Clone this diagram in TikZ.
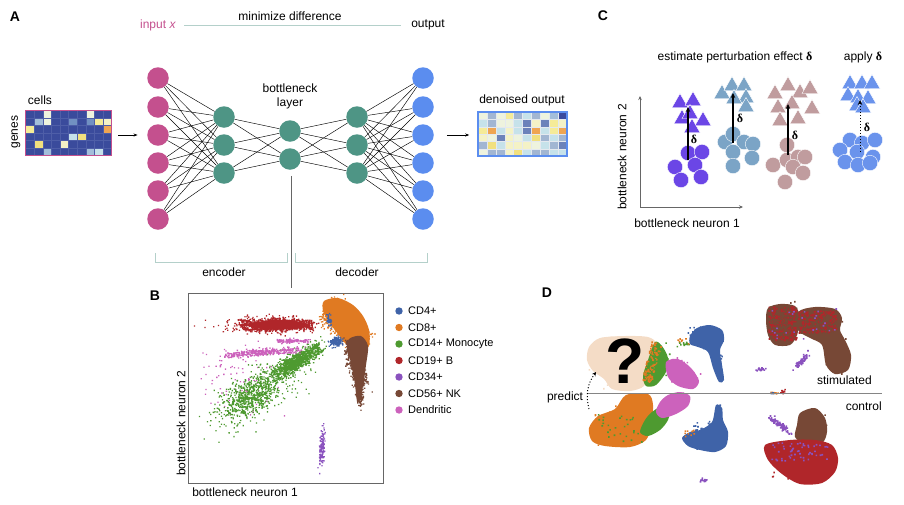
\documentclass[tikz,border=0pt]{standalone}
\usepackage{fontspec}
\setmainfont{Liberation Sans}
\newfontfamily\serifgr{Liberation Serif}
\usetikzlibrary{arrows.meta}
\definecolor{cMag}{HTML}{C4508E}
\definecolor{cTeal}{HTML}{4E9585}
\definecolor{cOut}{HTML}{5B8DEF}
\definecolor{cLine}{HTML}{B4D0CA}
\definecolor{cAx}{HTML}{666666}
\definecolor{cBlue}{HTML}{3F63A8}
\definecolor{cOrange}{HTML}{E07A22}
\definecolor{cGreen}{HTML}{4E9A30}
\definecolor{cRed}{HTML}{B0262A}
\definecolor{cPurple}{HTML}{8A52BE}
\definecolor{cBrown}{HTML}{774836}
\definecolor{cPink}{HTML}{CC62BC}
\definecolor{cPeach}{HTML}{F4DCC6}
\definecolor{cCp}{HTML}{6B46E6}
\definecolor{cCs}{HTML}{7BA4C6}
\definecolor{cCr}{HTML}{C09C9E}
\definecolor{cCb}{HTML}{6A93EC}
\definecolor{mA}{HTML}{3A4B9C}
\definecolor{mW}{HTML}{EEF3DE}
\definecolor{mL}{HTML}{A3BEDA}
\definecolor{mM}{HTML}{7190C2}
\definecolor{mY}{HTML}{F5EB98}
\definecolor{mP}{HTML}{F4F2C6}
\definecolor{mO}{HTML}{EFA552}
\definecolor{mC}{HTML}{C6E2EA}
\definecolor{mG}{HTML}{A2B6D2}
\definecolor{mD}{HTML}{3A4A9E}
\definecolor{mS}{HTML}{6C82BA}
\definecolor{mK}{HTML}{F1E07E}
\definecolor{gIn}{HTML}{4E5EA8}
\definecolor{gOut}{HTML}{E4E9EF}
\newcommand\heatmap[6]{%
 \foreach \c [count=\n from 0] in {#6}{%
   \pgfmathtruncatemacro\cc{mod(\n,10)}%
   \pgfmathtruncatemacro\rr{div(\n,10)}%
   \filldraw[fill=\c, draw=#5, line width=0.3pt] ({#1+\cc*#3},{#2+\rr*#4}) rectangle ++(#3,#4);
 }}
\def\dotr{0.65}\def\dotd{1.3}
% bell-shaped cloud: colour, cx, cy, sx, sy, angle, count  (one path)
\newcommand\dotcloud[7]{%
 \fill[#1] \foreach \k in {1,...,#7}{%
   \pgfextra{%
   \pgfmathsetmacro\ux{#4*(rand+rand+rand)/3}%
   \pgfmathsetmacro\uy{#5*(rand+rand+rand)/3}%
   \pgfmathsetmacro\px{#2+\ux*cos(#6)-\uy*sin(#6)-\dotr}%
   \pgfmathsetmacro\py{#3+\ux*sin(#6)+\uy*cos(#6)-\dotr}}%
   (\px,\py) rectangle ++(\dotd,\dotd)};}
% flat cloud (uniform in a rotated box)
\newcommand\dotunif[7]{%
 \fill[#1] \foreach \k in {1,...,#7}{%
   \pgfextra{%
   \pgfmathsetmacro\ux{#4*rand}%
   \pgfmathsetmacro\uy{#5*rand}%
   \pgfmathsetmacro\px{#2+\ux*cos(#6)-\uy*sin(#6)-\dotr}%
   \pgfmathsetmacro\py{#3+\ux*sin(#6)+\uy*cos(#6)-\dotr}}%
   (\px,\py) rectangle ++(\dotd,\dotd)};}
\newcommand\tri[3]{\filldraw[fill=#1,draw=white,line width=0.4pt] (#2-8,#3+5.5) -- (#2+8,#3+5.5) -- (#2,#3-8.5) -- cycle;}
\newcommand\blob[3]{\filldraw[fill=#1,draw=white,line width=0.4pt] (#2,#3) circle (7.7pt);}
\begin{document}
\begin{tikzpicture}[x=1pt,y=-1pt, font=\fontsize{12}{14}\selectfont,
  neuron/.style={circle, minimum size=21.5pt, inner sep=0pt},
  edge/.style={black, line width=0.45pt},
  panel/.style={font=\fontsize{14}{14}\selectfont\bfseries},
  lbl/.style={inner sep=1pt},
  delta/.style={-{Stealth[length=5pt,width=4.5pt]}, line width=1.3pt, black},
  dlab/.style={font=\serifgr\fontsize{12}{12}\selectfont\bfseries}]
\useasboundingbox (0,0) rectangle (904,504);
\pgfmathsetseed{42}
% ---------------- Panel A ----------------
\node[panel] (pA) at (15,17) {A};
\node[lbl, text=cMag] (inx) at (158,25) {input \textit{x}};
\node[lbl] (outl) at (428,25) {output};
\node[lbl] (mind) at (290,16) {minimize difference};
\draw[cLine, line width=0.8pt, shorten <=7pt, shorten >=9pt] (inx) -- (outl);
% input matrix
\heatmap{25.5}{110.5}{8.6}{7.5}{gIn}{mA,mA,mW,mA,mA,mA,mA,mW,mA,mA,
 mA,mL,mW,mA,mA,mM,mA,mM,mY,mP,
 mY,mA,mA,mA,mA,mA,mA,mA,mA,mO,
 mA,mA,mA,mA,mA,mC,mK,mA,mA,mA,
 mA,mK,mA,mA,mP,mA,mA,mA,mA,mA,
 mA,mA,mL,mA,mA,mA,mA,mL,mC,mA}
\node[draw=cMag, line width=1.5pt, minimum width=86pt, minimum height=45pt, inner sep=0pt] (inmat) at (68.5,133) {};
\node[lbl] (cells) at (40,100) {cells};
\node[lbl, rotate=90] (genes) at (16,132) {genes};
% output matrix
\heatmap{478}{112}{8.9}{7.33}{gOut}{mW,mG,mW,mY,mG,mC,mG,mW,mL,mD,
 mC,mG,mW,mW,mC,mS,mP,mS,mY,mP,
 mY,mO,mC,mP,mC,mS,mO,mC,mY,mO,
 mP,mW,mS,mP,mW,mC,mK,mG,mC,mG,
 mG,mK,mC,mP,mP,mP,mW,mC,mG,mS,
 mW,mG,mG,mP,mK,mC,mG,mG,mC,mC}
\node[draw=cOut, line width=1.5pt, minimum width=89pt, minimum height=44pt, inner sep=0pt] (outmat) at (522.5,134) {};
\node[lbl] (denl) at (522,100) {denoised output};
% network
\foreach \y [count=\i] in {78,107,135,163,191,219} {
  \node[neuron, fill=cMag] (i\i) at (158,\y) {};
  \node[neuron, fill=cOut] (o\i) at (423,\y) {};
}
\foreach \y [count=\i] in {117,145,173} {
  \node[neuron, fill=cTeal] (e\i) at (224,\y) {};
  \node[neuron, fill=cTeal] (d\i) at (357,\y) {};
}
\node[neuron, fill=cTeal] (b1) at (290,131) {};
\node[neuron, fill=cTeal] (b2) at (290,159) {};
\foreach \i in {1,...,6} \foreach \j in {1,2,3} {
  \draw[edge] (i\i) -- (e\j); \draw[edge] (d\j) -- (o\i);
}
\foreach \j in {1,2,3} \foreach \k in {1,2} {
  \draw[edge] (e\j) -- (b\k); \draw[edge] (b\k) -- (d\j);
}
\node[lbl, align=center, font=\fontsize{12}{14}\selectfont] (bnl) at (290,96) {bottleneck\\layer};
\draw[-{Stealth[length=4pt,width=3pt]}, line width=0.6pt, shorten <=6pt, shorten >=9.5pt] (inmat.east |- i3) -- (i3);
\draw[-{Stealth[length=4pt,width=3pt]}, line width=0.6pt, shorten <=13pt, shorten >=8pt] (o3) -- (outmat.west |- o3);
% brackets
\coordinate (enA) at (155,253); \coordinate (enB) at (287,253);
\coordinate (deA) at (295,253); \coordinate (deB) at (427,253);
\draw[cLine, line width=0.8pt] (enA) -- ++(0,9) -| (enB);
\draw[cLine, line width=0.8pt] (deA) -- ++(0,9) -| (deB);
\node[lbl] (encl) at (224,272) {encoder};
\node[lbl] (decl) at (357,272) {decoder};
\coordinate (bline) at (291.5,288);
\draw[cAx, line width=0.8pt] (bline |- b2.south) ++(0,6) -- (bline);
% ---------------- Panel B ----------------
\node[panel] (pB) at (155,296) {B};
\node[draw=cAx, line width=0.8pt, minimum width=195pt, minimum height=190pt, inner sep=0pt] (bbox) at (285.5,388) {};
\node[lbl, rotate=90] (byl) at (181,423) {bottleneck neuron 2};
\node[lbl] (bxl) at (245,492) {bottleneck neuron 1};
% sparse background
\dotcloud{cPink}{240}{380}{55}{50}{0}{80}
\dotcloud{cGreen}{258}{392}{78}{34}{-35}{420}
\dotcloud{cGreen}{250}{395}{42}{24}{-35}{420}
\dotcloud{cGreen}{296}{362}{42}{12}{-33}{650}
\dotunif{cGreen}{302}{358}{22}{5}{-30}{280}
% dendritic
\dotcloud{cPink}{262}{352}{52}{6}{-4}{200}
\dotunif{cPink}{262}{353}{38}{2.5}{-4}{160}
\dotcloud{cPink}{292}{341}{22}{3.5}{0}{70}
\dotunif{cPink}{292}{341}{15}{1.5}{0}{60}
% B cells
\dotcloud{cRed}{250}{325}{65}{12}{0}{90}
\dotcloud{cRed}{277}{325}{50}{12}{0}{450}
\dotunif{cRed}{277}{325}{36}{5}{0}{500}
\fill[cRed] (278,325) ellipse (30pt and 4.5pt);
% CD34
\dotcloud{cPurple}{322}{447}{30}{3.5}{95}{120}
% CD8 orange
\dotcloud{cOrange}{346}{325}{38}{22}{45}{500}
\fill[cOrange] plot[smooth cycle] coordinates {(324,301)(338,298)(353,305)(363,316)(369,330)(369,346)(360,352)(348,346)(338,334)(329,322)(323,311)};
\dotunif{cOrange}{346}{325}{25}{13}{45}{350}
% CD56 brown
\dotcloud{cBrown}{356}{366}{34}{12}{76}{380}
\fill[cBrown] plot[smooth cycle] coordinates {(349,339)(361,336)(368,346)(366,365)(363,385)(360,400)(357,401)(355,385)(352,365)(347,351)};
\dotunif{cBrown}{357}{362}{24}{7}{78}{250}
\dotcloud{cBrown}{360}{396}{18}{5}{85}{120}
% CD4 blue
\dotcloud{cBlue}{336}{342}{9}{7}{0}{90}
\dotunif{cBlue}{337}{341}{4}{4}{0}{40}
\dotcloud{cBlue}{329}{320}{11}{4}{70}{30}
\foreach \col/\t [count=\i] in {cBlue/CD4+, cOrange/CD8+, cGreen/CD14+ Monocyte, cRed/CD19+ B, cPurple/CD34+, cBrown/CD56+ NK, cPink/Dendritic} {
  \fill[\col] (399,294.5+16.5*\i) circle (3.7pt);
  \node[anchor=west, lbl, font=\fontsize{11}{13}\selectfont] (lg\i) at (407,294.5+16.5*\i) {\t};
}
% ---------------- Panel C ----------------
\node[panel] (pC) at (603,16) {C};
\node[lbl] (ctit) at (735,57) {estimate perturbation effect {\serifgr\bfseries δ}};
\node[lbl] (capp) at (863,57) {apply {\serifgr\bfseries δ}};
\coordinate (co) at (640,207);
\coordinate (cy) at (640,96);
\coordinate (cx) at (743,207);
\draw[cAx, line width=0.8pt, -{Stealth[length=4pt,width=3.5pt]}] (co) -- (cy);
\draw[cAx, line width=0.8pt, -{Stealth[length=4pt,width=3.5pt]}] (co) -- (cx);
\node[lbl, rotate=90] (cyl) at (622,157) {bottleneck neuron 2};
\node[lbl] (cxl) at (687,223) {bottleneck neuron 1};
% purple
\foreach \x/\y in {688/153,702/152,675/167,695/165,681/180,701/177} {\blob{cCp}{\x}{\y}}
\foreach \x/\y in {680/102,693/100,682/118,690/113,703/120,692/127} {\tri{cCp}{\x}{\y}}
% steel
\foreach \x/\y in {725/142,733/134,744/142,753/144,733/152,752/158,733/166} {\blob{cCs}{\x}{\y}}
\foreach \x/\y in {722/93,732/85,744/85,746/97,734/98,746/106} {\tri{cCs}{\x}{\y}}
% rose
\foreach \x/\y in {787/145,773/165,787/160,798/157,805/157,793/167,803/173,785/182} {\blob{cCr}{\x}{\y}}
\foreach \x/\y in {775/93,788/85,800/92,810/88,778/107,792/103,812/108,780/120,798/118} {\tri{cCr}{\x}{\y}}
% blue apply
\foreach \x/\y in {850/140,862/143,875/140,840/150,857/152,873/157,845/162,858/165,870/163} {\blob{cCb}{\x}{\y}}
\foreach \x/\y in {850/83,862/83,872/83,848/95,858/97,868/98,857/105,863/107} {\tri{cCb}{\x}{\y}}
% delta arrows
\coordinate (a1s) at (688,160); \coordinate (a1e) at (688,107);
\coordinate (a2s) at (733,143); \coordinate (a2e) at (733,93);
\coordinate (a3s) at (788,155); \coordinate (a3e) at (788,104);
\coordinate (a4s) at (860,152); \coordinate (a4e) at (860,100);
\draw[delta] (a1s) -- (a1e);
\draw[delta] (a2s) -- (a2e);
\draw[delta] (a3s) -- (a3e);
\draw[delta, line width=1pt, dotted] (a4s) -- (a4e);
\node[dlab] (dl1) at (694,139) {δ};
\node[dlab] (dl2) at (740,118) {δ};
\node[dlab] (dl3) at (795,135) {δ};
\node[dlab] (dl4) at (867,127) {δ};
% ---------------- Panel D ----------------
\def\dotr{0.8}\def\dotd{1.6}
\node[panel] (pD) at (547,293) {D};
% stimulated
\fill[cPeach] plot[smooth cycle] coordinates {(589,347) (600,338) (625,336) (648,337) (657,344) (655,358) (648,372) (644,386) (630,391) (612,389) (604,379) (593,371) (587,360)};
\dotcloud{cPeach}{622}{362}{42}{32}{0}{200}
\fill[cGreen] plot[smooth cycle] coordinates {(655,342)(662,346)(668,358)(666,372)(656,385)(646,386)(643,376)(648,360)};
\dotunif{cOrange}{652}{362}{5}{20}{15}{110}
\dotcloud{cGreen}{658}{365}{14}{25}{20}{70}
\fill[cPink] plot[smooth cycle] coordinates {(666,362)(678,359)(691,368)(699,381)(693,389)(678,386)(668,377)};
\dotcloud{cPink}{682}{374}{22}{15}{30}{80}
\fill[cBlue] plot[smooth cycle] coordinates {(690,336)(697,328)(710,325)(722,330)(724,340)(720,350)(722,365)(724,380)(719,382)(713,368)(708,352)(698,347)(690,344)};
\dotcloud{cBlue}{706}{338}{22}{15}{0}{110}
\dotcloud{cBlue}{719}{365}{5}{18}{0}{40}
\dotcloud{cGreen}{684}{344}{8}{4}{0}{15}
\dotcloud{cOrange}{682}{341}{8}{5}{0}{8}
\dotcloud{cPurple}{760}{370}{7}{2.5}{-10}{20}
\fill[cBrown] plot[smooth cycle] coordinates {(768,308)(780,304)(795,306)(800,318)(797,335)(790,345)(775,345)(768,335)(766,320)};
\fill[cBrown] plot[smooth cycle] coordinates {(798,312)(815,307)(835,309)(842,318)(840,330)(845,340)(851,355)(848,370)(835,374)(826,365)(822,345)(810,338)(798,330)};
\dotunif{cRed}{783}{324}{14}{17}{0}{230}
\dotcloud{cBrown}{782}{322}{20}{24}{0}{100}
\dotunif{cRed}{818}{322}{19}{11}{0}{200}
\dotcloud{cBrown}{820}{324}{26}{18}{0}{80}
\dotcloud{cBrown}{838}{355}{14}{22}{0}{80}
\dotcloud{cPurple}{802}{361}{15}{3.5}{-50}{60}
\dotunif{cPurple}{805}{325}{35}{17}{0}{25}
\dotcloud{cOrange}{775}{393}{6}{2}{0}{10}
\dotcloud{cRed}{782}{392}{5}{3}{-40}{8}
\dotcloud{cBlue}{772}{393}{3}{2}{0}{5}
% control
\fill[cOrange] plot[smooth cycle] coordinates {(626,395)(648,394)(653,405)(651,425)(646,440)(630,447)(605,446)(592,441)(589,428)(598,416)(615,409)};
\dotcloud{cOrange}{620}{425}{36}{26}{0}{160}
\dotunif{cGreen}{622}{428}{26}{14}{0}{30}
\fill[cGreen] plot[smooth cycle] coordinates {(662,406)(670,408)(668,420)(660,430)(648,436)(640,432)(645,420)(652,412)};
\dotcloud{cGreen}{655}{420}{19}{8}{-40}{60}
\fill[cPink] plot[smooth cycle] coordinates {(668,395)(680,392)(690,396)(688,406)(676,414)(662,418)(656,412)(660,402)};
\dotcloud{cPink}{673}{405}{21}{8}{-30}{70}
\fill[cBlue] plot[smooth cycle] coordinates {(716,405)(722,408)(723,420)(728,432)(726,446)(715,452)(700,450)(688,446)(682,438)(690,432)(700,430)(712,422)};
\dotcloud{cBlue}{708}{435}{23}{17}{0}{110}
\dotcloud{cBlue}{719}{410}{4}{11}{0}{20}
\dotcloud{cOrange}{688}{432}{8}{5}{0}{10}
\dotcloud{cPurple}{705}{480}{5}{3}{0}{15}
\dotcloud{cPurple}{780}{425}{19}{4}{40}{90}
\fill[cBrown] plot[smooth cycle] coordinates {(800,413)(815,408)(825,418)(827,432)(822,443)(805,444)(795,437)(797,425)};
\dotcloud{cBrown}{811}{427}{18}{18}{0}{80}
\fill[cRed] plot[smooth cycle] coordinates {(765,445)(790,440)(815,440)(832,445)(838,458)(835,472)(822,483)(800,484)(782,474)(768,460)};
\dotcloud{cRed}{800}{462}{40}{23}{0}{160}
\dotunif{cPurple}{800}{452}{28}{9}{0}{55}
% line and labels
\coordinate (dl) at (588,393); \coordinate (dr) at (882,393);
\draw[cAx!80, line width=1pt] (dl) -- (dr);
\node[lbl, anchor=east] (stim) at (873,380) {stimulated};
\node[lbl, anchor=east] (ctrl) at (883,406) {control};
\node[lbl] (pred) at (565,397) {predict};
\node[font=\fontsize{64}{64}\selectfont\bfseries, inner sep=0pt] (qm) at (625,361) {?};
\coordinate (ps) at (589,409); \coordinate (pe) at (596,372);
\draw[dotted, line width=1pt, -{Stealth[length=4pt,width=4pt]}] (ps) to[bend left=25] (pe);
\end{tikzpicture}
\end{document}
